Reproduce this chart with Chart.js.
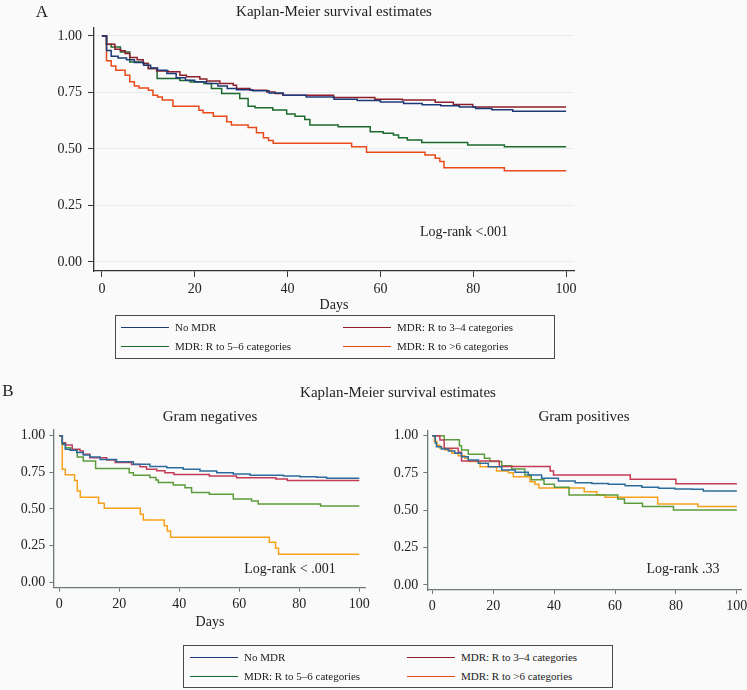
<!DOCTYPE html>
<html>
<head>
<meta charset="utf-8">
<script src="https://cdn.jsdelivr.net/npm/chart.js@4"></script>
<style>
  body { margin: 0; background: #fafafa; }
  #fig { position: relative; width: 747px; height: 690px; overflow: hidden; font-family: "Liberation Serif", serif; color: #222; }
  canvas { position: absolute; }
  .txt { position: absolute; white-space: nowrap; transform: translate(-50%, -50%); }
  .legend { position: absolute; border: 1.5px solid #4a4a4a; box-sizing: border-box; font-size: 11px; }
  .item { position: absolute; transform: translateY(-50%); display: flex; align-items: center; white-space: nowrap; }
  .item i { display: inline-block; width: 48px; height: 0; border-top: 1.5px solid; margin-right: 6px; }
</style>
</head>
<body>
<div id="fig">
  <canvas id="chartA" width="747" height="320" style="left:0;top:0"></canvas>
  <canvas id="chartBneg" width="390" height="230" style="left:0;top:400px"></canvas>
  <canvas id="chartBpos" width="400" height="230" style="left:360px;top:400px"></canvas>

  <div class="txt" style="left:42px;top:12px;font-size:17px">A</div>
  <div class="txt" style="left:334px;top:11px;font-size:15px">Kaplan-Meier survival estimates</div>
  <div class="txt" style="left:464px;top:232px;font-size:14px">Log-rank &lt;.001</div>
  <div class="txt" style="left:334px;top:305px;font-size:14px">Days</div>
  <div class="legend" id="legendA" style="left:115px;top:315px;width:440px;height:44px"></div>

  <div class="txt" style="left:8px;top:391px;font-size:17px">B</div>
  <div class="txt" style="left:398px;top:392px;font-size:15px">Kaplan-Meier survival estimates</div>
  <div class="txt" style="left:210px;top:416px;font-size:15px">Gram negatives</div>
  <div class="txt" style="left:584px;top:416px;font-size:15px">Gram positives</div>
  <div class="txt" style="left:290px;top:569px;font-size:14px">Log-rank &lt; .001</div>
  <div class="txt" style="left:683px;top:569px;font-size:14px">Log-rank .33</div>
  <div class="txt" style="left:210px;top:622px;font-size:14px">Days</div>
  <div class="legend" id="legendB" style="left:183px;top:645px;width:430px;height:43px"></div>
</div>
<script>
const dayTicks = [0, 20, 40, 60, 80, 100];
const survTicks = [0, 0.25, 0.5, 0.75, 1];
const groupLabels = ['No MDR', 'MDR: R to 3–4 categories', 'MDR: R to 5–6 categories', 'MDR: R to >6 categories'];

// panel A, all isolates: day of each step and survival after it
const aNoMdrDays = [0, 1, 2, 3.5, 5.3, 7, 9, 10.5, 12, 14, 16, 18, 20, 22.5, 25, 27, 29, 32.5, 36, 39, 44, 50, 55, 60, 65, 69, 73, 77, 80.5, 84, 88.5, 100];
const aNoMdrSurv = [1, 0.936, 0.91, 0.902, 0.895, 0.882, 0.87, 0.858, 0.848, 0.834, 0.815, 0.804, 0.797, 0.79, 0.778, 0.767, 0.762, 0.757, 0.748, 0.738, 0.73, 0.72, 0.714, 0.708, 0.701, 0.696, 0.691, 0.685, 0.679, 0.673, 0.667, 0.667];
const aR34Days = [0, 1, 2.8, 4, 5, 6, 7.6, 8.9, 10, 11.8, 14.3, 16.8, 18.2, 21.1, 22.6, 25.4, 28.3, 29, 31.9, 35.5, 37.3, 39.1, 49.9, 58.8, 64.7, 71.8, 75.7, 79.9, 100];
const aR34Surv = [1, 0.963, 0.941, 0.934, 0.922, 0.904, 0.895, 0.878, 0.856, 0.845, 0.841, 0.826, 0.819, 0.809, 0.8, 0.79, 0.782, 0.767, 0.76, 0.752, 0.745, 0.738, 0.728, 0.72, 0.716, 0.706, 0.697, 0.686, 0.686];
const aR56Days = [0, 1, 2, 4, 6, 8.9, 10, 11.9, 16.8, 19, 22, 23.6, 25.8, 29.7, 31.5, 33, 36.8, 39.8, 41.6, 43.7, 44.8, 50.9, 57.8, 60.6, 62.8, 63.9, 65.8, 68.9, 78.8, 86.7, 100];
const aR56Surv = [1, 0.963, 0.951, 0.929, 0.885, 0.878, 0.856, 0.812, 0.803, 0.796, 0.79, 0.767, 0.745, 0.723, 0.689, 0.682, 0.672, 0.655, 0.645, 0.63, 0.606, 0.598, 0.576, 0.569, 0.562, 0.55, 0.54, 0.528, 0.517, 0.51, 0.51];
const aR6Days = [0, 1, 2, 3, 5, 6, 7, 8, 10, 11, 12, 13, 15.3, 20.9, 21.8, 24, 26.9, 27.9, 31.5, 33.3, 34.8, 35.9, 36.9, 53.8, 57, 69.6, 71.8, 72.8, 73.7, 86.7, 100];
const aR6Surv = [1, 0.89, 0.867, 0.848, 0.826, 0.797, 0.778, 0.77, 0.76, 0.738, 0.73, 0.716, 0.689, 0.671, 0.66, 0.645, 0.62, 0.606, 0.595, 0.572, 0.55, 0.537, 0.525, 0.51, 0.485, 0.473, 0.459, 0.444, 0.417, 0.404, 0.404];

// panel B, Gram negatives
const negNoMdrDays = [0, 1, 2, 3.6, 5.8, 8, 10.2, 13.6, 19.1, 24.7, 30.2, 35.8, 41.3, 46.9, 52.5, 58, 63.6, 74.7, 80.2, 85.8, 89.1, 100];
const negNoMdrSurv = [1, 0.945, 0.907, 0.9, 0.886, 0.868, 0.854, 0.838, 0.822, 0.806, 0.79, 0.781, 0.772, 0.759, 0.747, 0.738, 0.731, 0.725, 0.72, 0.716, 0.71, 0.71];
const negR34Days = [0, 1, 2.1, 4.3, 6.9, 8, 10.2, 15.8, 18.6, 24.1, 26.9, 29.1, 32.5, 35.2, 38.2, 50, 59.1, 72.2, 76, 100];
const negR34Surv = [1, 0.952, 0.936, 0.907, 0.895, 0.873, 0.849, 0.834, 0.818, 0.804, 0.788, 0.772, 0.761, 0.747, 0.736, 0.725, 0.713, 0.704, 0.695, 0.695];
const negR56Days = [0, 1, 2.1, 3.8, 6, 8, 12.1, 23.3, 24.7, 30.2, 32.2, 33, 38, 41.9, 44.1, 50, 58, 64.1, 66.3, 87.1, 100];
const negR56Surv = [1, 0.94, 0.918, 0.905, 0.855, 0.827, 0.777, 0.748, 0.73, 0.715, 0.697, 0.68, 0.663, 0.645, 0.613, 0.6, 0.568, 0.554, 0.534, 0.52, 0.52];
const negR6Days = [0, 1, 2, 5.1, 6, 7, 13.1, 15, 27, 28, 35, 36, 37.1, 70, 72.1, 73.1, 100];
const negR6Surv = [1, 0.772, 0.733, 0.694, 0.623, 0.581, 0.54, 0.505, 0.464, 0.425, 0.386, 0.35, 0.308, 0.273, 0.232, 0.192, 0.192];

// panel B, Gram positives
const posNoMdrDays = [0, 1, 1.4, 3, 5.3, 7.4, 9.6, 11.8, 15.1, 18.4, 22.8, 27.2, 31.5, 35.9, 41.4, 46.9, 52.4, 57.8, 63.3, 68.8, 74.3, 79.7, 85.2, 89, 100];
const posNoMdrSurv = [1, 0.949, 0.926, 0.911, 0.897, 0.882, 0.859, 0.837, 0.815, 0.792, 0.77, 0.754, 0.737, 0.714, 0.696, 0.685, 0.679, 0.674, 0.665, 0.654, 0.647, 0.643, 0.641, 0.629, 0.629];
const posR34Days = [0, 2.5, 3.9, 8.5, 9.6, 22, 38.7, 39.8, 65, 80, 100];
const posR34Surv = [1, 0.97, 0.915, 0.888, 0.83, 0.794, 0.763, 0.737, 0.708, 0.677, 0.677];
const posR56Days = [0, 3.9, 8.9, 9.6, 11.8, 17.1, 18.9, 22.8, 26.1, 30.4, 32.5, 36.7, 40.1, 44.9, 60.9, 63.1, 69, 79.2, 100];
const posR56Surv = [1, 0.973, 0.933, 0.904, 0.875, 0.848, 0.826, 0.799, 0.777, 0.737, 0.705, 0.674, 0.654, 0.603, 0.576, 0.547, 0.525, 0.502, 0.502];
const posR6Days = [0, 0.7, 1.5, 2.5, 4.2, 6.4, 8.5, 10.7, 11.8, 15.7, 21.1, 25, 26.6, 32.1, 33.7, 35, 49.9, 54, 56.7, 74, 87.2, 100];
const posR6Surv = [1, 0.96, 0.935, 0.915, 0.904, 0.882, 0.866, 0.848, 0.826, 0.792, 0.763, 0.752, 0.725, 0.692, 0.674, 0.65, 0.625, 0.605, 0.587, 0.542, 0.525, 0.525];

const colorsA = ['#1d3a78', '#8e1f2b', '#1b6a2c', '#e94a1a'];
const colorsB = ['#2c6c9c', '#c43b55', '#5c9b3c', '#f6a11c'];

Chart.defaults.font.family = "'Liberation Serif', serif";

function kmChart(id, series, colors, f) {
  new Chart(document.getElementById(id), {
    type: 'line',
    data: {
      datasets: series.map((s, i) => ({
        label: groupLabels[i],
        data: s[0].map((d, j) => ({ x: d, y: s[1][j] })),
        borderColor: colors[i],
        borderWidth: 1.5,
        pointRadius: 0,
        stepped: 'before',
        fill: false
      }))
    },
    options: {
      responsive: false,
      animation: false,
      devicePixelRatio: 1,
      layout: { padding: f.pad },
      plugins: { legend: { display: false }, tooltip: { enabled: false } },
      scales: {
        x: {
          type: 'linear', min: f.x[0], max: f.x[1],
          afterBuildTicks: s => { s.ticks = dayTicks.map(v => ({ value: v })); },
          afterFit: s => { s.height = 30; },
          border: { color: f.axis, width: 1.3 },
          grid: { drawOnChartArea: false, tickColor: f.axis, tickLength: f.tick },
          ticks: { autoSkip: false, maxRotation: 0, padding: f.xPad, color: '#222', font: { size: 14 } }
        },
        y: {
          type: 'linear', min: f.y[0], max: f.y[1],
          afterBuildTicks: s => { s.ticks = survTicks.map(v => ({ value: v })); },
          afterFit: s => { s.width = f.yw; },
          border: { color: f.axis, width: 1.3 },
          grid: { drawOnChartArea: f.grid, color: '#e6eef2', lineWidth: 1, tickColor: f.axis, tickLength: f.tick },
          ticks: { autoSkip: false, padding: f.yPad, color: '#222', font: { size: 14 }, callback: v => v.toFixed(2) }
        }
      }
    }
  });
}

kmChart('chartA',
  [[aNoMdrDays, aNoMdrSurv], [aR34Days, aR34Surv], [aR56Days, aR56Surv], [aR6Days, aR6Surv]],
  colorsA,
  { pad: { left: 34, top: 28, right: 173, bottom: 19 }, yw: 60, x: [-1.7, 101.7], y: [-0.04, 1.035],
    axis: '#333', tick: 6, xPad: 4, yPad: 6, grid: true });

kmChart('chartBneg',
  [[negNoMdrDays, negNoMdrSurv], [negR34Days, negR34Surv], [negR56Days, negR56Surv], [negR6Days, negR6Surv]],
  colorsB,
  { pad: { left: 3.3, top: 30, right: 25, bottom: 12.3 }, yw: 50, x: [-2, 101.9], y: [-0.037, 1.039],
    axis: '#6f7a7a', tick: 4, xPad: 4, yPad: 4, grid: false });

kmChart('chartBpos',
  [[posNoMdrDays, posNoMdrSurv], [posR34Days, posR34Surv], [posR56Days, posR56Surv], [posR6Days, posR6Surv]],
  colorsB,
  { pad: { left: 17.3, top: 30.7, right: 18.3, bottom: 10 }, yw: 50, x: [-1.64, 101.6], y: [-0.0335, 1.033],
    axis: '#6f7a7a', tick: 4, xPad: 4, yPad: 5, grid: false });

// legends (both use the panel A colours, as in the original figure)
function buildLegend(id, rows, cols) {
  const box = document.getElementById(id);
  groupLabels.forEach((lab, i) => {
    const el = document.createElement('div');
    el.className = 'item';
    el.style.left = cols[i % 2] + 'px';
    el.style.top = rows[Math.floor(i / 2)] + 'px';
    el.innerHTML = '<i style="border-color:' + colorsA[i] + '"></i>' + lab.replace('>', '&gt;');
    box.appendChild(el);
  });
}
buildLegend('legendA', [11, 30], [5, 227]);
buildLegend('legendB', [11, 30], [6, 223]);
</script>
</body>
</html>
